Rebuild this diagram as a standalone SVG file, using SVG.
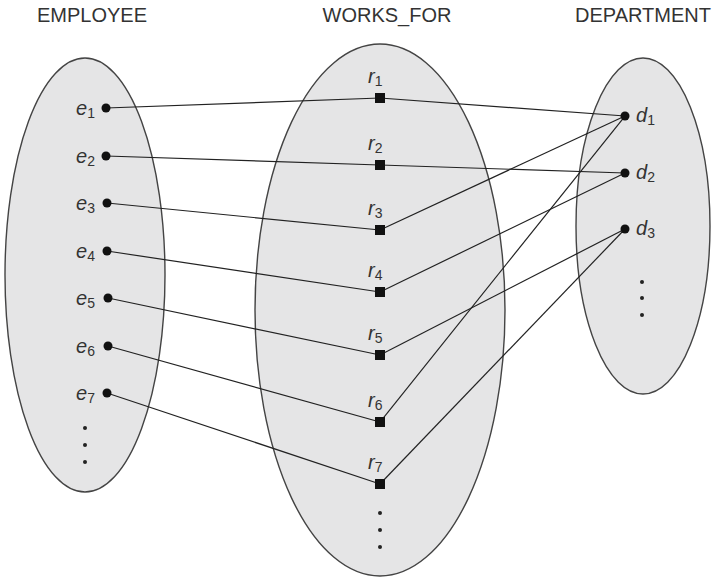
<svg xmlns="http://www.w3.org/2000/svg" width="724" height="581" viewBox="0 0 724 581">
  <style>
    .title { font-family: "Liberation Sans", Arial, sans-serif; font-size: 20px; fill: #333; text-anchor: middle; }
    .set { fill: #e5e5e6; stroke: #444; stroke-width: 1.4; }
    .lbl { font-family: "Liberation Sans", Arial, sans-serif; font-size: 20px; font-style: italic; fill: #333; }
    .sub { font-size: 14px; font-style: normal; }
    .pt { fill: #111; }
    .sq { fill: #111; }
    .dots { fill: #222; }
    .link { stroke: #222; stroke-width: 1.2; fill: none; }
  </style>

  <!-- entity / relationship set titles -->
  <text class="title" x="92" y="22">EMPLOYEE</text>
  <text class="title" x="387" y="22">WORKS_FOR</text>
  <text class="title" x="643" y="22">DEPARTMENT</text>

  <!-- set outlines -->
  <g id="employee-set"><ellipse class="set" cx="85" cy="275" rx="80" ry="217"/></g>
  <g id="works-for-set"><ellipse class="set" cx="380" cy="310" rx="125" ry="266"/></g>
  <g id="department-set"><ellipse class="set" cx="643" cy="226" rx="67" ry="168"/></g>

  <!-- relationship instance links -->
  <g id="connectors">
    <line class="link" x1="106" y1="108" x2="380" y2="98"/>
    <line class="link" x1="106" y1="156" x2="380" y2="165"/>
    <line class="link" x1="107" y1="203" x2="380" y2="230"/>
    <line class="link" x1="107" y1="251" x2="380" y2="292"/>
    <line class="link" x1="108" y1="298" x2="380" y2="355"/>
    <line class="link" x1="108" y1="346" x2="380" y2="422"/>
    <line class="link" x1="107" y1="393" x2="380" y2="484"/>
    <line class="link" x1="380" y1="98" x2="625" y2="116"/>
    <line class="link" x1="380" y1="165" x2="625" y2="173"/>
    <line class="link" x1="380" y1="230" x2="625" y2="116"/>
    <line class="link" x1="380" y1="292" x2="625" y2="173"/>
    <line class="link" x1="380" y1="355" x2="625" y2="229"/>
    <line class="link" x1="380" y1="422" x2="625" y2="116"/>
    <line class="link" x1="380" y1="484" x2="625" y2="229"/>
  </g>

  <!-- EMPLOYEE entities -->
  <g id="e1"><circle class="pt" cx="106" cy="108" r="4.5"/><text class="lbl" x="76" y="115">e<tspan class="sub" dy="3">1</tspan></text></g>
  <g id="e2"><circle class="pt" cx="106" cy="156" r="4.5"/><text class="lbl" x="76" y="163">e<tspan class="sub" dy="3">2</tspan></text></g>
  <g id="e3"><circle class="pt" cx="107" cy="203" r="4.5"/><text class="lbl" x="76" y="210">e<tspan class="sub" dy="3">3</tspan></text></g>
  <g id="e4"><circle class="pt" cx="107" cy="251" r="4.5"/><text class="lbl" x="76" y="258">e<tspan class="sub" dy="3">4</tspan></text></g>
  <g id="e5"><circle class="pt" cx="108" cy="298" r="4.5"/><text class="lbl" x="76" y="305">e<tspan class="sub" dy="3">5</tspan></text></g>
  <g id="e6"><circle class="pt" cx="108" cy="346" r="4.5"/><text class="lbl" x="76" y="353">e<tspan class="sub" dy="3">6</tspan></text></g>
  <g id="e7"><circle class="pt" cx="107" cy="393" r="4.5"/><text class="lbl" x="76" y="400">e<tspan class="sub" dy="3">7</tspan></text></g>
  <g id="employee-more">
    <circle class="dots" cx="85" cy="428" r="2"/>
    <circle class="dots" cx="85" cy="445" r="2"/>
    <circle class="dots" cx="85" cy="462" r="2"/>
  </g>

  <!-- WORKS_FOR relationship instances -->
  <g id="r1"><rect class="sq" x="375" y="93" width="10" height="10"/><text class="lbl" x="368" y="83">r<tspan class="sub" dy="3">1</tspan></text></g>
  <g id="r2"><rect class="sq" x="375" y="160" width="10" height="10"/><text class="lbl" x="368" y="150">r<tspan class="sub" dy="3">2</tspan></text></g>
  <g id="r3"><rect class="sq" x="375" y="225" width="10" height="10"/><text class="lbl" x="368" y="215">r<tspan class="sub" dy="3">3</tspan></text></g>
  <g id="r4"><rect class="sq" x="375" y="287" width="10" height="10"/><text class="lbl" x="368" y="277">r<tspan class="sub" dy="3">4</tspan></text></g>
  <g id="r5"><rect class="sq" x="375" y="350" width="10" height="10"/><text class="lbl" x="368" y="340">r<tspan class="sub" dy="3">5</tspan></text></g>
  <g id="r6"><rect class="sq" x="375" y="417" width="10" height="10"/><text class="lbl" x="368" y="407">r<tspan class="sub" dy="3">6</tspan></text></g>
  <g id="r7"><rect class="sq" x="375" y="479" width="10" height="10"/><text class="lbl" x="368" y="469">r<tspan class="sub" dy="3">7</tspan></text></g>
  <g id="works-for-more">
    <circle class="dots" cx="380" cy="513" r="2"/>
    <circle class="dots" cx="380" cy="530" r="2"/>
    <circle class="dots" cx="380" cy="547" r="2"/>
  </g>

  <!-- DEPARTMENT entities -->
  <g id="d1"><circle class="pt" cx="625" cy="116" r="4.5"/><text class="lbl" x="636" y="122">d<tspan class="sub" dy="3">1</tspan></text></g>
  <g id="d2"><circle class="pt" cx="625" cy="173" r="4.5"/><text class="lbl" x="636" y="179">d<tspan class="sub" dy="3">2</tspan></text></g>
  <g id="d3"><circle class="pt" cx="625" cy="229" r="4.5"/><text class="lbl" x="636" y="235">d<tspan class="sub" dy="3">3</tspan></text></g>
  <g id="department-more">
    <circle class="dots" cx="642" cy="282" r="2"/>
    <circle class="dots" cx="642" cy="298" r="2"/>
    <circle class="dots" cx="642" cy="315" r="2"/>
  </g>
</svg>
